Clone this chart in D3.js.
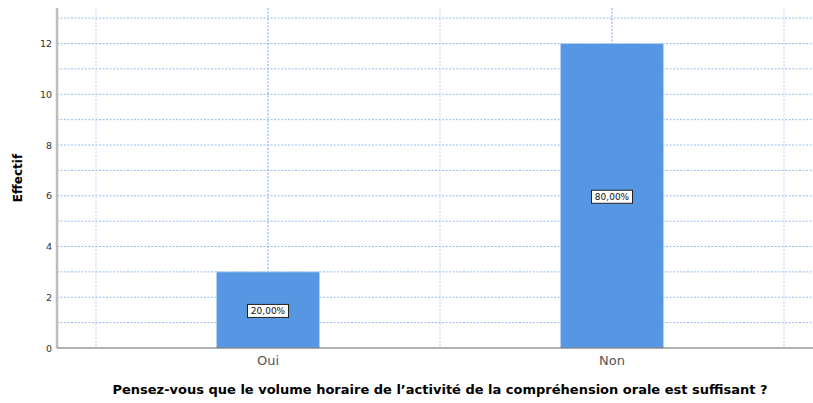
<!DOCTYPE html>
<html lang="en">
<head>
<meta charset="utf-8">
<title>Effectif</title>
<script src="https://d3js.org/d3.v7.min.js"></script>
<style>
  body { margin: 0; background: #fff; }
  text { font-family: "DejaVu Sans", Verdana, sans-serif; }
</style>
</head>
<body>
<div id="main"></div>
<script>
// data
var categories = ["Oui", "Non"];
var counts = [3, 12];
var percents = ["20,00%", "80,00%"];
var yTicks = [0, 2, 4, 6, 8, 10, 12];
var yGrid = d3.range(0, 14);

var width = 813, height = 403;
var plotLeft = 57, plotRight = 813, plotTop = 8, plotBottom = 348;

var svg = d3.select("#main").append("svg")
  .attr("width", width)
  .attr("height", height);

var x = d3.scaleBand()
  .domain(categories)
  .range([96, 784]);

var y = d3.scaleLinear()
  .domain([0, 13.4])
  .range([plotBottom, plotTop]);

var barW = x.step() * 0.3;

// horizontal grid
svg.append("g")
  .selectAll("line")
  .data(yGrid.filter(function(d) { return d > 0; }))
  .enter().append("line")
  .attr("x1", plotLeft).attr("x2", plotRight)
  .attr("y1", function(d) { return y(d); })
  .attr("y2", function(d) { return y(d); })
  .attr("stroke", "#96bcf0")
  .attr("stroke-width", 1)
  .attr("stroke-dasharray", "2,1.5");

// vertical grid: band edges and centres
var vx = [x.range()[0]];
categories.forEach(function(c) {
  vx.push(x(c) + x.bandwidth() / 2);
  vx.push(x(c) + x.bandwidth());
});
svg.append("g")
  .selectAll("line")
  .data(vx)
  .enter().append("line")
  .attr("x1", function(d) { return d; })
  .attr("x2", function(d) { return d; })
  .attr("y1", plotTop).attr("y2", plotBottom)
  .attr("stroke", function(d, i) { return i % 2 ? "#7aa8ea" : "#b8d2f4"; })
  .attr("stroke-width", 1)
  .attr("stroke-dasharray", "2,1.5");

// bars
svg.append("g")
  .selectAll("rect")
  .data(counts)
  .enter().append("rect")
  .attr("x", function(d, i) { return x(categories[i]) + x.bandwidth() / 2 - barW / 2; })
  .attr("width", barW)
  .attr("y", function(d) { return y(d); })
  .attr("height", function(d) { return y(0) - y(d); })
  .attr("fill", "#5796e2")
  .attr("stroke", "#b9d3f3")
  .attr("stroke-width", 0.8);

// y axis
var yAxis = svg.append("g")
  .attr("transform", "translate(" + plotLeft + ",0)")
  .call(d3.axisLeft(y).tickValues(yTicks).tickSize(0).tickPadding(5));
yAxis.select(".domain").remove();
yAxis.selectAll("text")
  .attr("font-size", 9.5)
  .attr("fill", "#333")
  .style("font-family", "DejaVu Sans, Verdana, sans-serif");

svg.append("line")
  .attr("x1", plotLeft).attr("x2", plotLeft)
  .attr("y1", plotTop).attr("y2", plotBottom)
  .attr("stroke", "#bdbdbd")
  .attr("stroke-width", 2.5);

// x axis
svg.append("line")
  .attr("x1", plotLeft).attr("x2", plotRight)
  .attr("y1", plotBottom).attr("y2", plotBottom)
  .attr("stroke", "#666")
  .attr("stroke-width", 1.2);

var xAxis = svg.append("g")
  .attr("transform", "translate(0," + plotBottom + ")")
  .call(d3.axisBottom(x).tickSize(0).tickPadding(8));
xAxis.select(".domain").remove();
xAxis.selectAll("text")
  .attr("font-size", 13)
  .attr("fill", "#555")
  .style("font-family", "DejaVu Sans, Verdana, sans-serif");

// percentage labels
var lab = svg.append("g")
  .selectAll("g")
  .data(counts)
  .enter().append("g")
  .attr("transform", function(d, i) {
    return "translate(" + (x(categories[i]) + x.bandwidth() / 2) + "," + (y(d / 2) + 1) + ")";
  });
lab.append("rect")
  .attr("x", -20.5).attr("y", -6.5)
  .attr("width", 41).attr("height", 13)
  .attr("fill", "#fff")
  .attr("stroke", "#222")
  .attr("stroke-width", 1);
lab.append("text")
  .attr("text-anchor", "middle")
  .attr("dy", "0.35em")
  .attr("font-size", 9)
  .attr("fill", "#111")
  .text(function(d, i) { return percents[i]; });

// titles
svg.append("text")
  .attr("transform", "translate(22,178) rotate(-90)")
  .attr("text-anchor", "middle")
  .attr("font-size", 12)
  .attr("font-weight", "bold")
  .text("Effectif");

svg.append("text")
  .attr("x", 440)
  .attr("y", 394)
  .attr("text-anchor", "middle")
  .attr("font-size", 13)
  .attr("font-weight", "bold")
  .text("Pensez-vous que le volume horaire de l\u2019activit\u00e9 de la compr\u00e9hension orale est suffisant ?");
</script>
</body>
</html>
